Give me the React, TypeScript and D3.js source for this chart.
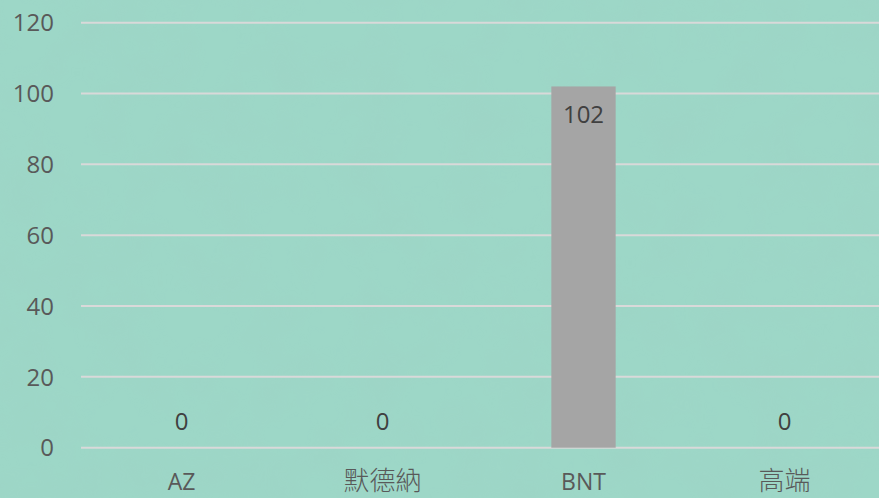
import React, { useEffect, useRef } from "react";
import * as d3 from "d3";

const W = 879;
const H = 498;

// chart data
const categories = ["AZ", "默德納", "BNT", "高端"];
const doses = [0, 0, 102, 0];
const yTicks = [0, 20, 40, 60, 80, 100, 120];

const LATIN = "'Open Sans', 'Noto Sans', sans-serif";
const CJK = "'Noto Sans CJK TC', 'Noto Sans CJK SC', sans-serif";

export default function App() {
  const svgRef = useRef<SVGSVGElement | null>(null);

  useEffect(() => {
    const svg = d3.select(svgRef.current);
    svg.selectAll("*").remove();

    // background + a faint paper texture
    const defs = svg.append("defs");
    const f = defs.append("filter").attr("id", "paper").attr("x", 0).attr("y", 0).attr("width", "100%").attr("height", "100%");
    f.append("feTurbulence").attr("type", "fractalNoise").attr("baseFrequency", 0.02).attr("numOctaves", 3).attr("seed", 4);
    f.append("feColorMatrix").attr("type", "matrix")
      .attr("values", "0 0 0 0 0.35  0 0 0 0 0.62  0 0 0 0 0.55  0 0 0 1.2 -0.45");

    svg.append("rect").attr("width", W).attr("height", H).attr("fill", "#9dd7c7");
    svg.append("rect").attr("width", W).attr("height", H).attr("filter", "url(#paper)").attr("opacity", 0.4);

    // scales
    const x = d3.scaleBand<string>()
      .domain(categories)
      .range([81, 885])
      .paddingInner(0.68)
      .paddingOuter(0.34);

    const y = d3.scaleLinear().domain([0, 120]).range([447.7, 22.7]);

    // gridlines
    svg.append("g")
      .selectAll("line")
      .data(yTicks)
      .join("line")
      .attr("x1", 81)
      .attr("x2", W)
      .attr("y1", (d) => y(d))
      .attr("y2", (d) => y(d))
      .attr("stroke", "#d9d9d9")
      .attr("stroke-width", 2);

    // y tick labels
    svg.append("g")
      .selectAll("text")
      .data(yTicks)
      .join("text")
      .attr("x", 54)
      .attr("y", (d) => y(d))
      .attr("dy", "0.36em")
      .attr("text-anchor", "end")
      .attr("font-family", LATIN)
      .attr("font-size", 24)
      .attr("fill", "#595959")
      .text((d) => d);

    // bars
    svg.append("g")
      .selectAll("rect")
      .data(doses)
      .join("rect")
      .attr("x", (d, i) => x(categories[i]) as number)
      .attr("width", x.bandwidth())
      .attr("y", (d) => y(d))
      .attr("height", (d) => y(0) - y(d))
      .attr("fill", "#a5a5a5");

    // value labels: inside the bar end, or just above the axis for zeros
    svg.append("g")
      .selectAll("text")
      .data(doses)
      .join("text")
      .attr("x", (d, i) => (x(categories[i]) as number) + x.bandwidth() / 2)
      .attr("y", (d) => (d > 0 ? y(d) + 37 : y(0) - 18))
      .attr("text-anchor", "middle")
      .attr("font-family", LATIN)
      .attr("font-size", 24)
      .attr("fill", "#404040")
      .text((d) => d);

    // category labels
    svg.append("g")
      .selectAll("text")
      .data(categories)
      .join("text")
      .attr("x", (d) => (x(d) as number) + x.bandwidth() / 2)
      .attr("y", 490)
      .attr("text-anchor", "middle")
      .attr("font-family", (d) => (/^[A-Za-z]+$/.test(d) ? LATIN : CJK))
      .attr("font-weight", (d) => (/^[A-Za-z]+$/.test(d) ? 400 : 300))
      .attr("font-size", (d) => (/^[A-Za-z]+$/.test(d) ? 23 : 26))
      .attr("fill", "#595959")
      .text((d) => d);
  }, []);

  return (
    <svg
      ref={svgRef}
      width={W}
      height={H}
      style={{ position: "absolute", left: 0, top: 0, display: "block" }}
    />
  );
}
